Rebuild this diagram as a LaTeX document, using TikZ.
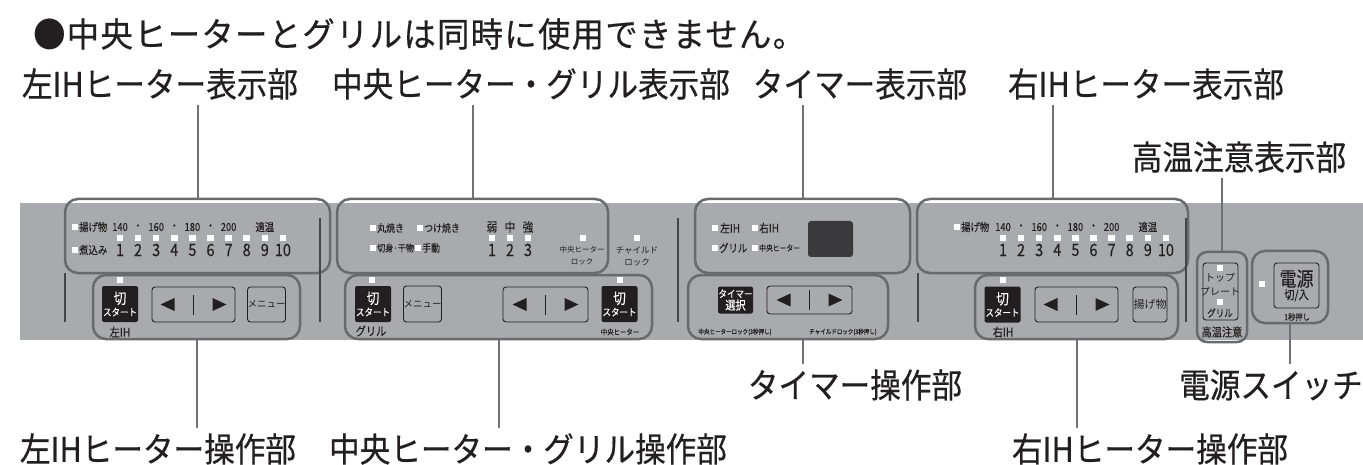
\documentclass[tikz,border=0pt]{standalone}
\usepackage{fontspec}
\setmainfont{Noto Sans CJK JP}
\newfontfamily\panelFont[FakeStretch=0.85, FakeBold=0.2]{Noto Sans CJK JP}
\newfontfamily\calloutFont[FakeStretch=0.9, FakeBold=0.5]{Noto Sans CJK JP}
\newfontfamily\noteFont[FakeStretch=0.95, FakeBold=0.5, LetterSpace=4]{Noto Sans CJK JP}
\usetikzlibrary{positioning}
\definecolor{panelGray}{RGB}{168,170,173}
\definecolor{frameGray}{RGB}{105,106,109}
\definecolor{leadGray}{RGB}{112,113,116}
\definecolor{sepGray}{RGB}{70,70,72}
\definecolor{inkBlack}{RGB}{35,31,32}
\definecolor{screenGray}{RGB}{58,58,60}
\newcommand{\fsz}[1]{\fontsize{#1}{#1}\selectfont}
\newcommand{\panelTop}{203}
\newcommand{\panelBottom}{340}
\newcommand{\lampRowA}{227}
\newcommand{\lampRowB}{238}
\newcommand{\lampRowC}{250}
\newcommand{\dialStep}{18.1}
\newcommand{\arrowKey}[5]{%
  \node[keyframe, minimum width=#4, minimum height=#5] (#1) at (#2,#3) {};
  \fill[inkBlack] ([xshift=-33pt]#1.center) -- ++(14,-6.5) -- ++(0,13) -- cycle;
  \fill[inkBlack] ([xshift=33pt]#1.center) -- ++(-14,-6.5) -- ++(0,13) -- cycle;
  \draw[inkBlack, line width=1pt] ([yshift=-10pt]#1.center) -- ([yshift=10pt]#1.center);
}

\begin{document}
\begin{tikzpicture}[x=1pt, y=-1pt,
  area/.style={draw=frameGray, line width=2.5pt, rounded corners=13pt, inner sep=0pt},
  lamp/.style={fill=white, minimum size=6.5pt, inner sep=0pt},
  keyblack/.style={fill=inkBlack, text=white, rounded corners=2pt, inner sep=0pt,
    align=center, font=\panelFont, minimum width=36pt, minimum height=36pt},
  keyframe/.style={draw=inkBlack, line width=0.9pt, rounded corners=3pt, inner sep=0pt,
    align=center, text=inkBlack, font=\panelFont},
  txt/.style={font=\panelFont\fsz{#1}, text=inkBlack, inner sep=0pt},
  callout/.style={font=\calloutFont\fsz{34}, text=inkBlack, inner sep=5pt},
  lead/.style={draw=leadGray, line width=2pt},
  sep/.style={draw=sepGray, line width=1.8pt}]
\useasboundingbox (0,0) rectangle (1363,465);
\fill[white] (0,0) rectangle (1363,465);
\fill[panelGray] (20,\panelTop) rectangle (1363,\panelBottom);

% areas of the panel
\node[area, minimum width=265pt, minimum height=74pt] (lihDisp) at (197.5,236) {};
\node[area, minimum width=271pt, minimum height=74pt] (cgDisp) at (472.5,236) {};
\node[area, minimum width=215pt, minimum height=74pt] (tmrDisp) at (802.5,236) {};
\node[area, minimum width=271pt, minimum height=74pt] (rihDisp) at (1052.5,236) {};
\node[area, minimum width=207pt, minimum height=64pt] (lihOp) at (196.5,307) {};
\node[area, minimum width=307pt, minimum height=64pt] (cgOp) at (498.5,307) {};
\node[area, minimum width=200pt, minimum height=64pt] (tmrOp) at (788,307) {};
\node[area, minimum width=203pt, minimum height=64pt] (rihOp) at (1076.5,307) {};
\node[area, rounded corners=10pt, minimum width=50pt, minimum height=90pt] (hotArea) at (1222,297) {};
\node[area, minimum width=76pt, minimum height=72pt] (pwrArea) at (1290,287) {};

\draw[sep] (65,273) -- (65,322);
\draw[sep] (320,218) -- (320,322);
\draw[sep] (678,218) -- (678,322);
\draw[sep] (918,273) -- (918,322);
\draw[sep] (1186,218) -- (1186,322);

% left IH
\node[lamp] (lihLampFry) at (75,\lampRowA) {};
\node[txt=11, anchor=west] (lihFry) at (79,\lampRowA) {揚げ物};
\node[lamp] (lihLampStew) at (75,\lampRowC) {};
\node[txt=11, anchor=west] (lihStew) at (79,\lampRowC) {煮込み};
\foreach \t [count=\i] in {140,・,160,・,180,・,200,{},適温}
  \node[txt=11] (lihTemp\i) at ({120+(\i-1)*\dialStep},\lampRowA) {\t};
\foreach \i in {1,...,10} {
  \node[lamp] (lihLamp\i) at ({120+(\i-1)*\dialStep},\lampRowB) {};
  \node[txt=17] (lihNum\i) at ({120+(\i-1)*\dialStep},\lampRowC) {\i};
}
\node[lamp] (lihLampKey) at (120,280) {};
\node[keyblack] (lihKey) at (120,304) {\fsz{15}切\\[0pt]\fsz{10}スタート};
\node[txt=12] (lihName) at (120,332) {左IH};
\arrowKey{lihDial}{193.5}{304.5}{83pt}{35pt}
\node[keyframe, minimum width=33pt, minimum height=35pt, font=\fsz{9.5}] (lihMenu) at (266.5,304.5) {メニュー};

% center heater and grill
\node[lamp] (cgLampRoast) at (373,228) {};
\node[txt=10.5, anchor=west] (cgRoast) at (377,228) {丸焼き};
\node[lamp] (cgLampGlaze) at (420,228) {};
\node[txt=10.5, anchor=west] (cgGlaze) at (424,228) {つけ焼き};
\node[lamp] (cgLampFish) at (373,248) {};
\node[txt=9.5, anchor=west] (cgFish) at (377,248) {切身·干物};
\node[lamp] (cgLampHand) at (418,248) {};
\node[txt=10.5, anchor=west] (cgHand) at (422,248) {手動};
\foreach \t [count=\i] in {弱,中,強} {
  \node[txt=12.5] (cgPow\i) at ({492+(\i-1)*18},227) {\t};
  \node[lamp] (cgLamp\i) at ({492+(\i-1)*18},\lampRowB) {};
  \node[txt=17] (cgNum\i) at ({492+(\i-1)*18},\lampRowC) {\i};
}
\node[lamp] (cgLampLock) at (583,\lampRowB) {};
\node[txt=7.5, font=\fontsize{7.5}{12}\selectfont, align=center] (cgLock) at (582,256) {中央ヒーター\\ロック};
\node[lamp] (childLamp) at (637,\lampRowB) {};
\node[txt=8.5, font=\fontsize{8.5}{12}\selectfont, align=center] (childLock) at (637,256) {チャイルド\\ロック};
\node[lamp] (cgLampGrill) at (372,280) {};
\node[keyblack] (cgGrillKey) at (373,304) {\fsz{15}切\\[0pt]\fsz{10}スタート};
\node[txt=12] (cgGrillName) at (371,331) {グリル};
\node[keyframe, minimum width=35pt, minimum height=36pt, font=\fsz{9.5}] (cgMenu) at (422.5,304) {メニュー};
\arrowKey{cgDial}{545.5}{304.5}{85pt}{35pt}
\node[lamp] (cgLampMid) at (620,280) {};
\node[keyblack] (cgMidKey) at (619.5,304) {\fsz{15}切\\[0pt]\fsz{10}スタート};
\node[txt=7.5] (cgMidName) at (620,332) {中央ヒーター};

% timer
\node[lamp] (tmrLampL) at (715,228) {};
\node[txt=11.5, anchor=west] (tmrL) at (720,228) {左IH};
\node[lamp] (tmrLampR) at (755,228) {};
\node[txt=11.5, anchor=west] (tmrR) at (759,228) {右IH};
\node[lamp] (tmrLampG) at (715,248) {};
\node[txt=11, anchor=west] (tmrG) at (719,248) {グリル};
\node[lamp] (tmrLampM) at (755,248) {};
\node[txt=8, anchor=west] (tmrM) at (759,248) {中央ヒーター};
\node[fill=screenGray, rounded corners=3pt, minimum width=45pt, minimum height=36pt] (tmrScreen) at (830.5,239) {};
\node[keyblack, minimum width=35pt, minimum height=27pt] (tmrKey) at (735.5,300) {\fsz{10}タイマー\\[0pt]\fsz{12}選択};
\arrowKey{tmrDial}{809.5}{300}{85pt}{28pt}
\node[txt=6.5] (tmrLockMid) at (735,332) {中央ヒーターロック(3秒押し)};
\node[txt=6.5] (tmrLockChild) at (843,332) {チャイルドロック(3秒押し)};

% right IH
\node[lamp] (rihLampFry) at (957,\lampRowA) {};
\node[txt=11, anchor=west] (rihFry) at (961,\lampRowA) {揚げ物};
\foreach \t [count=\i] in {140,・,160,・,180,・,200,{},適温}
  \node[txt=11] (rihTemp\i) at ({1003+(\i-1)*\dialStep},\lampRowA) {\t};
\foreach \i in {1,...,10} {
  \node[lamp] (rihLamp\i) at ({1003+(\i-1)*\dialStep},\lampRowB) {};
  \node[txt=17] (rihNum\i) at ({1003+(\i-1)*\dialStep},\lampRowC) {\i};
}
\node[lamp] (rihLampKey) at (1003,280) {};
\node[keyblack] (rihKey) at (1002.5,304.5) {\fsz{15}切\\[0pt]\fsz{10}スタート};
\node[txt=12] (rihName) at (1003,332) {右IH};
\arrowKey{rihDial}{1076.5}{304.5}{83pt}{35pt}
\node[keyframe, minimum width=34pt, minimum height=35pt, font=\fsz{11}] (rihFryKey) at (1150,304.5) {揚げ物};

% high temperature and power
\node[keyframe, minimum width=35pt, minimum height=57pt] (hotFrame) at (1220.5,291.5) {};
\node[lamp] (hotLampTop) at (1220,268) {};
\node[txt=10, font=\fontsize{10}{14}\selectfont, align=center] (hotTop) at (1220,285) {トップ\\プレート};
\node[lamp] (hotLampGrill) at (1220,302) {};
\node[txt=10] (hotGrill) at (1220,313) {グリル};
\node[txt=12] (hotName) at (1222,332) {高温注意};
\node[lamp] (pwrLamp) at (1262,284) {};
\node[keyframe, minimum width=45pt, minimum height=45pt] (pwrKey) at (1296.5,285.5) {\fsz{20}電源\\[1pt]\fsz{12}切/入};
\node[txt=8.5] (pwrNote) at (1297,317) {1秒押し};

% callouts
\node[callout, font=\noteFont\fsz{34}, anchor=west] (noteLine) at (28,34) {●中央ヒーターとグリルは同時に使用できません。};
\node[callout] (lihDispLbl) at (160,84) {左IHヒーター表示部};
\node[callout] (cgDispLbl) at (531,84) {中央ヒーター・グリル表示部};
\node[callout] (tmrDispLbl) at (860,84) {タイマー表示部};
\node[callout] (rihDispLbl) at (1146,84) {右IHヒーター表示部};
\node[callout] (hotLbl) at (1239,157) {高温注意表示部};
\node[callout] (lihOpLbl) at (158,449) {左IHヒーター操作部};
\node[callout] (cgOpLbl) at (528,449) {中央ヒーター・グリル操作部};
\node[callout] (tmrOpLbl) at (855,385) {タイマー操作部};
\node[callout] (pwrLbl) at (1271,385) {電源スイッチ};
\node[callout] (rihOpLbl) at (1150,449) {右IHヒーター操作部};

\draw[lead] (lihDisp.north) -- (lihDisp.north |- lihDispLbl.south);
\draw[lead] (cgDisp.north) -- (cgDisp.north |- cgDispLbl.south);
\draw[lead] (tmrDisp.north) -- (tmrDisp.north |- tmrDispLbl.south);
\draw[lead] (rihDisp.north) -- (rihDisp.north |- rihDispLbl.south);
\draw[lead] (hotArea.north) -- (hotArea.north |- hotLbl.south);
\draw[lead] (lihOp.south) -- (lihOp.south |- lihOpLbl.north);
\draw[lead] (cgOp.south) -- (cgOp.south |- cgOpLbl.north);
\draw[lead] (tmrOp.south -| tmrDisp.south) -- (tmrDisp.south |- tmrOpLbl.north);
\draw[lead] (rihOp.south) -- (rihOp.south |- rihOpLbl.north);
\draw[lead] (pwrArea.south) -- (pwrArea.south |- pwrLbl.north);
\end{tikzpicture}
\end{document}
